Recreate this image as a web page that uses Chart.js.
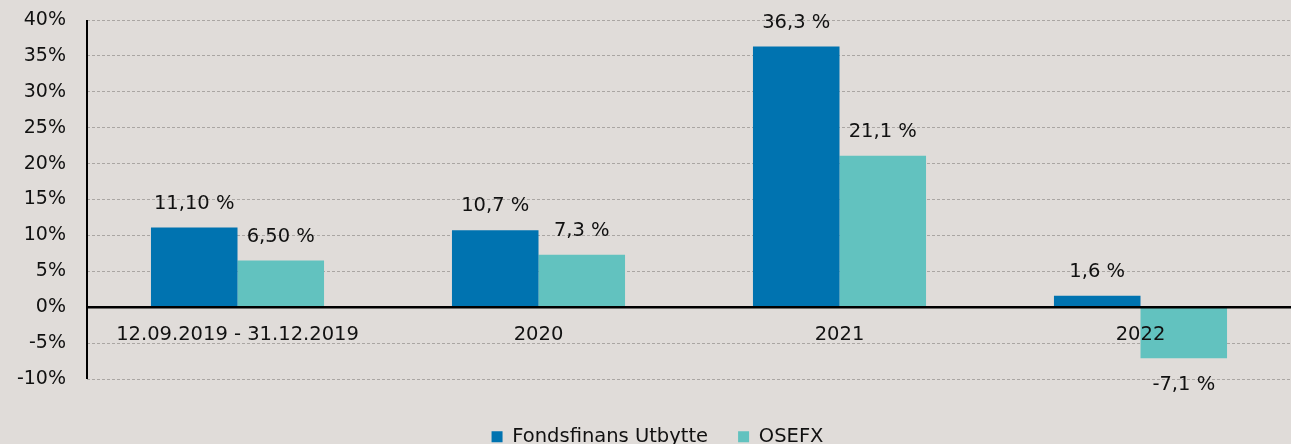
<!DOCTYPE html>
<html>
<head>
<meta charset="utf-8">
<script src="https://cdn.jsdelivr.net/npm/chart.js@4.4.0/dist/chart.umd.min.js"></script>
<style>
  html, body { margin: 0; padding: 0; background: #e0dcd9; }
  #wrap { width: 1291px; height: 444px; }
</style>
</head>
<body>
<div id="wrap"><canvas id="chart"></canvas></div>
<script>
// --- data ---
const categories = ['12.09.2019 - 31.12.2019', '2020', '2021', '2022'];
const seriesNames = ['Fondsfinans Utbytte', 'OSEFX'];
const utbytteValues = [11.1, 10.7, 36.3, 1.6];
const osefxValues = [6.5, 7.3, 21.1, -7.1];
const utbytteLabels = ['11,10 %', '10,7 %', '36,3 %', '1,6 %'];
const osefxLabels = ['6,50 %', '7,3 %', '21,1 %', '-7,1 %'];
const yMin = -10, yMax = 40, yStep = 5;

const FONT = '"DejaVu Sans", sans-serif';
const TEXT = '#111111';

// axis lines, zero line, category names and value labels
const overlay = {
  id: 'overlay',
  beforeLayout(chart) {
    const lg = chart.legend;
    if (lg && !lg._patched) {
      const fit = lg.fit.bind(lg);
      const draw = lg.draw.bind(lg);
      lg.fit = function () { fit(); this.height = 47; };
      lg.draw = function () {
        chart.ctx.save();
        chart.ctx.translate(12, 0);
        draw();
        chart.ctx.restore();
      };
      lg._patched = true;
    }
  },
  afterDatasetsDraw(chart) {
    const { ctx, chartArea, scales: { x, y } } = chart;
    const zero = y.getPixelForValue(0);
    ctx.save();
    ctx.strokeStyle = '#000';
    ctx.lineWidth = 2.5;
    ctx.beginPath();
    ctx.moveTo(chartArea.left, zero);
    ctx.lineTo(chartArea.right, zero);
    ctx.stroke();
    ctx.lineWidth = 2;
    ctx.beginPath();
    ctx.moveTo(chartArea.left, y.getPixelForValue(yMax));
    ctx.lineTo(chartArea.left, y.getPixelForValue(yMin));
    ctx.stroke();

    ctx.font = '19.5px ' + FONT;
    ctx.fillStyle = TEXT;
    ctx.textAlign = 'center';
    ctx.textBaseline = 'middle';
    categories.forEach((c, i) => {
      ctx.fillText(c, x.getPixelForValue(i), zero + 28);
    });

    const labelSets = [utbytteLabels, osefxLabels];
    chart.data.datasets.forEach((ds, di) => {
      chart.getDatasetMeta(di).data.forEach((bar, i) => {
        const v = ds.data[i];
        const ty = v >= 0 ? bar.y - 24 : bar.y + 27;
        ctx.fillText(labelSets[di][i], bar.x, ty);
      });
    });
    ctx.restore();
  }
};

new Chart(document.getElementById('chart'), {
  type: 'bar',
  data: {
    labels: categories,
    datasets: [
      { label: seriesNames[0], data: utbytteValues, backgroundColor: '#0073b0' },
      { label: seriesNames[1], data: osefxValues, backgroundColor: '#62c2bf' }
    ]
  },
  options: {
    responsive: true,
    maintainAspectRatio: false,
    animation: false,
    layout: { padding: { top: 20, right: 0, bottom: 0, left: 0 } },
    datasets: { bar: { barPercentage: 1, categoryPercentage: 0.575 } },
    scales: {
      x: {
        grid: { display: false },
        border: { display: false },
        ticks: { display: false },
        afterFit(scale) { scale.height = 18; }
      },
      y: {
        min: yMin,
        max: yMax,
        ticks: {
          stepSize: yStep,
          padding: 21,
          color: TEXT,
          font: { family: FONT, size: 19 },
          callback: v => v + '%'
        },
        grid: { color: '#aaa6a3', lineWidth: 1, drawTicks: false },
        border: { display: false, dash: [3, 2] },
        afterFit(scale) {
          scale.width = 87;
          scale.paddingTop = 0;
          scale.paddingBottom = 0;
        }
      }
    },
    plugins: {
      legend: {
        position: 'bottom',
        labels: {
          boxWidth: 11,
          boxHeight: 11,
          padding: 30,
          color: TEXT,
          font: { family: FONT, size: 19.5 }
        }
      },
      tooltip: { enabled: false }
    }
  },
  plugins: [overlay]
});
</script>
</body>
</html>
